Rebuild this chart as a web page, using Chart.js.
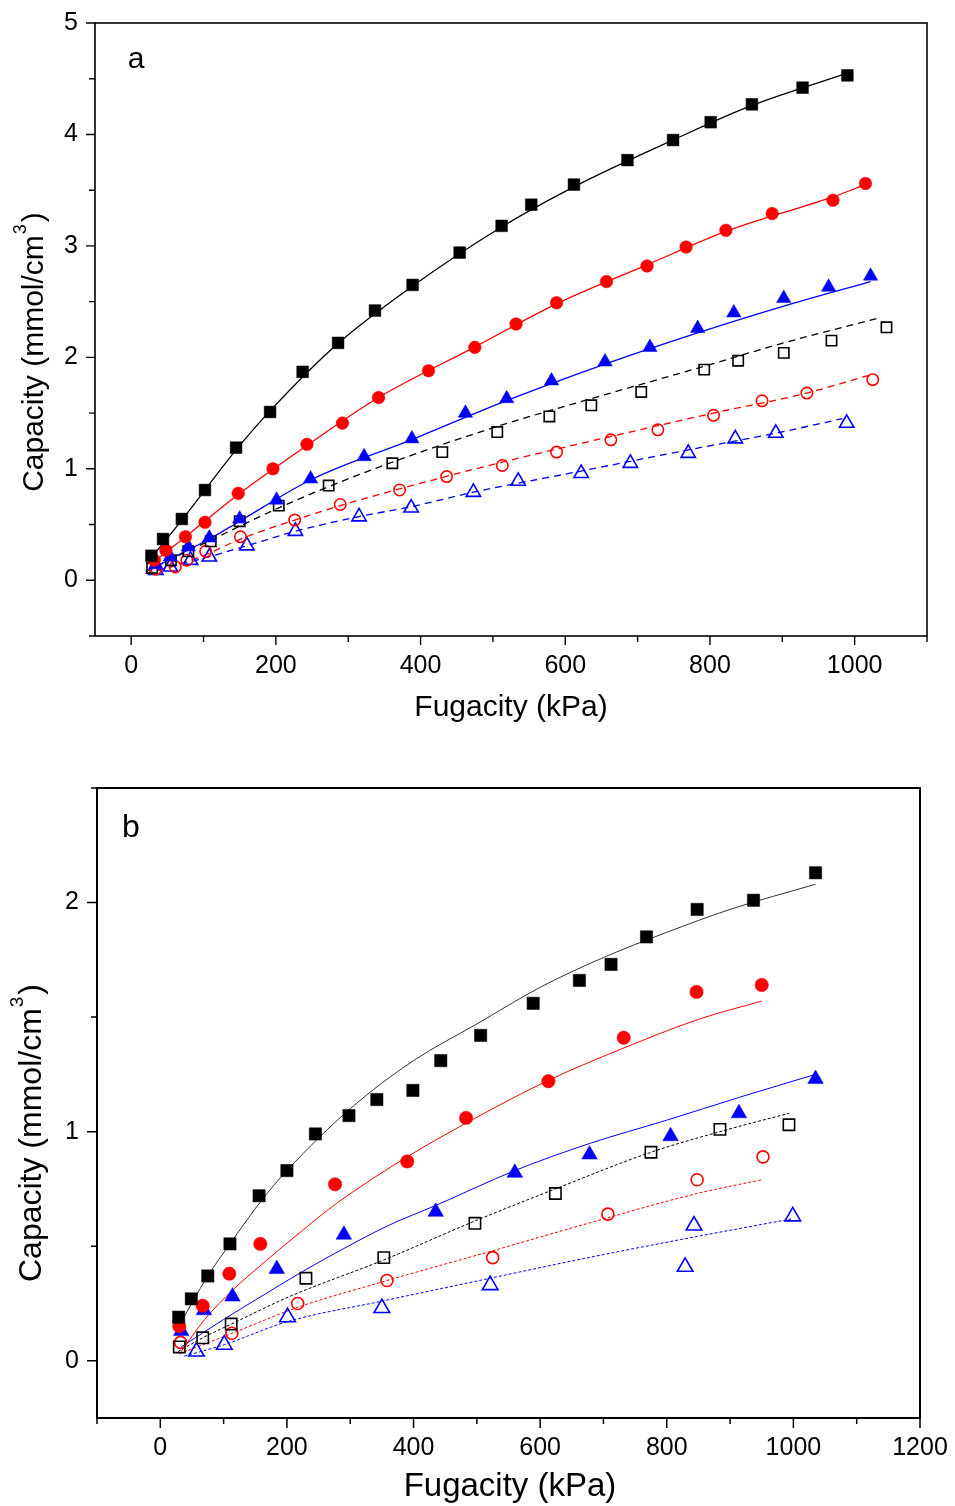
<!DOCTYPE html>
<html>
<head>
<meta charset="utf-8">
<script src="https://cdn.jsdelivr.net/npm/chart.js@4.4.1/dist/chart.umd.min.js"></script>
<style>
  html, body { margin: 0; padding: 0; background: #fff; }
  #wrap { position: relative; width: 955px; height: 1506px; overflow: hidden; }
  canvas { position: absolute; left: 0; }
  #cA { top: 0; }
  #cB { top: 742px; }
</style>
</head>
<body>
<div id="wrap">
  <canvas id="cA" width="955" height="742"></canvas>
  <canvas id="cB" width="955" height="764"></canvas>
</div>
<script>
// ---------- texts ----------
const X_TITLE = 'Fugacity (kPa)';
const Y_TITLE = ['Capacity (mmol/cm', '3', ')'];
const PANEL_A = 'a';
const PANEL_B = 'b';

// ---------- panel a : measured points ----------
const aSqFilledX = [28, 44, 70, 102, 145, 192, 237, 286, 337, 389, 454, 512, 553, 612, 686, 749, 801, 858, 928, 990];
const aSqFilledY = [0.22, 0.37, 0.55, 0.81, 1.19, 1.51, 1.87, 2.13, 2.42, 2.65, 2.94, 3.18, 3.37, 3.55, 3.77, 3.95, 4.11, 4.27, 4.42, 4.53];
const aCiFilledX = [32, 48, 75, 102, 148, 196, 243, 292, 342, 411, 475, 532, 588, 657, 713, 767, 822, 886, 970, 1015];
const aCiFilledY = [0.18, 0.27, 0.39, 0.52, 0.78, 1.00, 1.22, 1.41, 1.64, 1.88, 2.09, 2.30, 2.49, 2.68, 2.82, 2.99, 3.14, 3.29, 3.41, 3.56];
const aTrFilledX = [34, 54, 79, 108, 150, 201, 248, 322, 388, 462, 519, 581, 655, 717, 783, 833, 902, 964, 1022];
const aTrFilledY = [0.14, 0.21, 0.30, 0.38, 0.55, 0.72, 0.91, 1.11, 1.27, 1.50, 1.63, 1.79, 1.96, 2.09, 2.26, 2.40, 2.53, 2.63, 2.73];
const aSqOpenX = [29, 55, 79, 110, 150, 204, 273, 361, 430, 506, 578, 636, 705, 792, 839, 902, 968, 1044];
const aSqOpenY = [0.11, 0.18, 0.26, 0.35, 0.53, 0.67, 0.85, 1.05, 1.15, 1.33, 1.47, 1.57, 1.69, 1.89, 1.97, 2.04, 2.15, 2.27];
const aCiOpenX = [34, 61, 77, 103, 151, 226, 289, 371, 436, 513, 588, 663, 728, 805, 872, 934, 1025];
const aCiOpenY = [0.10, 0.12, 0.18, 0.26, 0.39, 0.54, 0.68, 0.81, 0.93, 1.03, 1.15, 1.26, 1.35, 1.48, 1.61, 1.68, 1.80];
const aTrOpenX = [34, 54, 82, 108, 160, 227, 315, 387, 473, 535, 622, 690, 770, 835, 891, 989];
const aTrOpenY = [0.09, 0.12, 0.18, 0.21, 0.31, 0.44, 0.57, 0.65, 0.79, 0.89, 0.96, 1.05, 1.14, 1.27, 1.32, 1.41];

// ---------- panel a : model curves ----------
const aFitBlackX = [25, 70, 145, 192, 285, 389, 512, 612, 749, 858, 990];
const aFitBlackY = [0.18, 0.54, 1.17, 1.52, 2.12, 2.64, 3.17, 3.53, 3.95, 4.26, 4.55];
const aFitRedX = [30, 75, 148, 243, 342, 474, 588, 713, 822, 970, 1015];
const aFitRedY = [0.16, 0.39, 0.77, 1.21, 1.64, 2.09, 2.48, 2.83, 3.13, 3.44, 3.55];
const aFitBlueX = [25, 54, 108, 150, 248, 387, 518, 655, 783, 902, 1022];
const aFitBlueY = [0.09, 0.19, 0.37, 0.53, 0.90, 1.26, 1.61, 1.94, 2.22, 2.46, 2.68];
const aFitBlackDX = [20, 55, 110, 204, 273, 361, 506, 636, 792, 902, 1032];
const aFitBlackDY = [0.08, 0.19, 0.36, 0.65, 0.84, 1.06, 1.38, 1.63, 1.92, 2.13, 2.35];
const aFitRedDX = [20, 60, 103, 151, 226, 289, 371, 513, 663, 805, 934, 1020];
const aFitRedDY = [0.06, 0.13, 0.23, 0.37, 0.54, 0.67, 0.82, 1.06, 1.29, 1.50, 1.68, 1.84];
const aFitBlueDX = [20, 54, 107, 160, 227, 314, 387, 473, 622, 770, 891, 983];
const aFitBlueDY = [0.06, 0.12, 0.21, 0.31, 0.44, 0.57, 0.66, 0.79, 0.98, 1.17, 1.32, 1.45];

// ---------- panel b : measured points ----------
const bSqFilledX = [29, 49, 75, 110, 156, 200, 245, 298, 342, 399, 443, 506, 589, 662, 712, 768, 848, 937, 1035];
const bSqFilledY = [0.19, 0.27, 0.37, 0.51, 0.72, 0.83, 0.99, 1.07, 1.14, 1.18, 1.31, 1.42, 1.56, 1.66, 1.73, 1.85, 1.97, 2.01, 2.13];
const bCiFilledX = [30, 67, 109, 158, 276, 390, 483, 613, 732, 847, 950];
const bCiFilledY = [0.15, 0.24, 0.38, 0.51, 0.77, 0.87, 1.06, 1.22, 1.41, 1.61, 1.64];
const bTrFilledX = [33, 69, 114, 184, 290, 435, 560, 678, 806, 914, 1035];
const bTrFilledY = [0.13, 0.22, 0.28, 0.40, 0.55, 0.65, 0.82, 0.90, 0.98, 1.08, 1.23];
const bSqOpenX = [30, 67, 112, 230, 353, 497, 624, 775, 884, 993];
const bSqOpenY = [0.06, 0.10, 0.16, 0.36, 0.45, 0.60, 0.73, 0.91, 1.01, 1.03];
const bCiOpenX = [32, 113, 217, 358, 525, 707, 848, 952];
const bCiOpenY = [0.08, 0.12, 0.25, 0.35, 0.45, 0.64, 0.79, 0.89];
const bTrOpenX = [57, 101, 201, 350, 521, 829, 843, 999];
const bTrOpenY = [0.04, 0.07, 0.19, 0.23, 0.33, 0.41, 0.59, 0.63];

// ---------- panel b : model curves ----------
const bFitBlackX = [27, 75, 110, 160, 200, 300, 400, 500, 600, 700, 800, 900, 1035];
const bFitBlackY = [0.14, 0.37, 0.51, 0.70, 0.83, 1.10, 1.31, 1.47, 1.63, 1.76, 1.87, 1.97, 2.08];
const bFitRedX = [33, 70, 115, 160, 225, 280, 390, 485, 610, 710, 850, 950];
const bFitRedY = [0.04, 0.18, 0.31, 0.42, 0.57, 0.69, 0.89, 1.04, 1.22, 1.34, 1.49, 1.57];
const bFitBlueX = [33, 100, 165, 225, 290, 360, 437, 560, 680, 800, 915, 1035];
const bFitBlueY = [0.06, 0.18, 0.29, 0.39, 0.49, 0.59, 0.68, 0.83, 0.95, 1.05, 1.15, 1.25];
const bFitBlackDX = [28, 67, 112, 204, 353, 497, 624, 775, 884, 993];
const bFitBlackDY = [0.04, 0.10, 0.16, 0.28, 0.44, 0.61, 0.75, 0.91, 1.00, 1.08];
const bFitRedDX = [30, 114, 214, 358, 525, 676, 848, 950];
const bFitRedDY = [0.03, 0.12, 0.23, 0.35, 0.48, 0.60, 0.73, 0.79];
const bFitBlueDX = [38, 101, 200, 350, 521, 676, 843, 999];
const bFitBlueDY = [0.02, 0.07, 0.17, 0.26, 0.36, 0.45, 0.54, 0.62];

// ---------- helpers ----------
const FONT = '"Liberation Sans", Arial, Helvetica, sans-serif';
const BLACK = '#000000', RED = '#ff0000', BLUE = '#0000ff';

function pts(xs, ys) { return xs.map((x, i) => ({ x, y: ys[i] })); }

function markers(xs, ys, color, style, radius, filled) {
  return {
    data: pts(xs, ys),
    showLine: false,
    pointStyle: style,
    pointRadius: radius,
    pointHoverRadius: radius,
    pointBackgroundColor: filled ? color : 'rgba(255,255,255,0)',
    pointBorderColor: color,
    pointBorderWidth: filled ? 0.5 : 1.6,
    order: 0
  };
}

function curve(xs, ys, color, dash, width) {
  return {
    data: pts(xs, ys),
    showLine: true,
    borderColor: color,
    borderWidth: width,
    borderDash: dash,
    pointRadius: 0,
    pointHoverRadius: 0,
    cubicInterpolationMode: 'monotone',
    fill: false,
    order: 1
  };
}

const isMultiple = (v, step) => Math.abs(v / step - Math.round(v / step)) < 1e-6;

// frame around the plot area plus outward major/minor ticks on left and bottom
const frameTicks = {
  id: 'frameTicks',
  afterDraw(chart, args, o) {
    const { ctx, chartArea: a, scales: { x, y } } = chart;
    ctx.save();
    ctx.strokeStyle = '#000';
    ctx.lineWidth = o.frameWidth;
    ctx.strokeRect(a.left, a.top, a.right - a.left, a.bottom - a.top);
    ctx.lineWidth = o.tickWidth;
    ctx.beginPath();
    x.ticks.forEach(t => {
      if (!isMultiple(t.value, o.xMinor)) return;
      const len = isMultiple(t.value, o.xMajor) ? o.majorLen : o.minorLen;
      const px = x.getPixelForValue(t.value);
      ctx.moveTo(px, a.bottom);
      ctx.lineTo(px, a.bottom + len);
    });
    y.ticks.forEach(t => {
      if (!isMultiple(t.value, o.yMinor)) return;
      const len = isMultiple(t.value, o.yMajor) ? o.majorLen : o.minorLen;
      const py = y.getPixelForValue(t.value);
      ctx.moveTo(a.left, py);
      ctx.lineTo(a.left - len, py);
    });
    ctx.stroke();
    ctx.restore();
  }
};

// axis titles (with superscript) and panel letter
const annotations = {
  id: 'annotations',
  afterDraw(chart, args, o) {
    const ctx = chart.ctx;
    ctx.save();
    ctx.fillStyle = '#000';
    ctx.textAlign = 'center';
    ctx.textBaseline = 'middle';
    ctx.font = `${o.letterSize}px ${FONT}`;
    ctx.fillText(o.letter, o.letterX, o.letterY);
    ctx.font = `${o.titleSize}px ${FONT}`;
    ctx.fillText(X_TITLE, o.xTitleX, o.xTitleY);

    ctx.translate(o.yTitleX, o.yTitleY);
    ctx.rotate(-Math.PI / 2);
    ctx.textAlign = 'left';
    const main = `${o.yTitleSize}px ${FONT}`;
    const sup = `${Math.round(o.yTitleSize * 0.6)}px ${FONT}`;
    ctx.font = main;
    const w1 = ctx.measureText(Y_TITLE[0]).width;
    const w3 = ctx.measureText(Y_TITLE[2]).width;
    ctx.font = sup;
    const w2 = ctx.measureText(Y_TITLE[1]).width;
    let cx = -(w1 + w2 + w3 + 3) / 2;
    ctx.font = main; ctx.fillText(Y_TITLE[0], cx, 0); cx += w1;
    ctx.font = sup; ctx.fillText(Y_TITLE[1], cx + 1, -o.yTitleSize * 0.45); cx += w2 + 3;
    ctx.font = main; ctx.fillText(Y_TITLE[2], cx, 0);
    ctx.restore();
  }
};

function makeChart(canvasId, cfg) {
  return new Chart(document.getElementById(canvasId), {
    type: 'scatter',
    data: { datasets: cfg.datasets },
    plugins: [frameTicks, annotations],
    options: {
      responsive: false,
      animation: false,
      devicePixelRatio: 1,
      events: [],
      layout: { padding: cfg.padding },
      plugins: {
        legend: { display: false },
        tooltip: { enabled: false },
        frameTicks: cfg.ticks,
        annotations: cfg.text
      },
      scales: {
        x: {
          type: 'linear',
          min: cfg.xMin, max: cfg.xMax,
          afterFit: s => { s.height = cfg.xAxisHeight; s.paddingLeft = 0; s.paddingRight = 0; },
          grid: { display: false, drawTicks: false },
          border: { display: false },
          ticks: {
            stepSize: cfg.ticks.xMinor,
            includeBounds: false,
            autoSkip: false, maxRotation: 0, minRotation: 0,
            padding: cfg.xLabelPad,
            color: '#000',
            font: { family: FONT, size: cfg.tickSize },
            callback: v => isMultiple(v, cfg.ticks.xMajor) ? String(Math.round(v)) : ''
          }
        },
        y: {
          type: 'linear',
          min: cfg.yMin, max: cfg.yMax,
          afterFit: s => { s.width = cfg.yAxisWidth; s.paddingTop = 0; s.paddingBottom = 0; },
          grid: { display: false, drawTicks: false },
          border: { display: false },
          ticks: {
            stepSize: cfg.ticks.yMinor,
            includeBounds: false,
            autoSkip: false,
            padding: cfg.yLabelPad,
            color: '#000',
            font: { family: FONT, size: cfg.tickSize },
            callback: v => isMultiple(v, cfg.ticks.yMajor) ? String(Math.round(v)) : ''
          }
        }
      }
    }
  });
}

// ---------- panel a ----------
makeChart('cA', {
  datasets: [
    curve(aFitBlackX, aFitBlackY, BLACK, [], 1.3),
    curve(aFitRedX, aFitRedY, RED, [], 1.3),
    curve(aFitBlueX, aFitBlueY, BLUE, [], 1.3),
    curve(aFitBlackDX, aFitBlackDY, BLACK, [7, 5], 1.3),
    curve(aFitRedDX, aFitRedDY, RED, [7, 5], 1.3),
    curve(aFitBlueDX, aFitBlueDY, BLUE, [7, 5], 1.3),
    markers(aSqFilledX, aSqFilledY, BLACK, 'rect', 8.3, true),
    markers(aCiFilledX, aCiFilledY, RED, 'circle', 6.3, true),
    markers(aTrFilledX, aTrFilledY, BLUE, 'triangle', 8.3, true),
    markers(aSqOpenX, aSqOpenY, BLACK, 'rect', 7.3, false),
    markers(aCiOpenX, aCiOpenY, RED, 'circle', 5.7, false),
    markers(aTrOpenX, aTrOpenY, BLUE, 'triangle', 8.3, false)
  ],
  padding: { top: 23, right: 28, bottom: 0, left: 0 },
  xMin: -50, xMax: 1100, yMin: -0.5, yMax: 5,
  xAxisHeight: 106, yAxisWidth: 95,
  xLabelPad: 15, yLabelPad: 17, tickSize: 25,
  ticks: { xMinor: 100, xMajor: 200, yMinor: 0.5, yMajor: 1, majorLen: 9, minorLen: 6, frameWidth: 1.6, tickWidth: 1.4 },
  text: { letter: PANEL_A, letterSize: 30, letterX: 136, letterY: 60,
          titleSize: 30, yTitleSize: 30, xTitleX: 511, xTitleY: 708, yTitleX: 35, yTitleY: 352 }
});

// ---------- panel b ----------
makeChart('cB', {
  datasets: [
    curve(bFitBlackX, bFitBlackY, '#333333', [], 1),
    curve(bFitRedX, bFitRedY, RED, [], 1),
    curve(bFitBlueX, bFitBlueY, BLUE, [], 1),
    curve(bFitBlackDX, bFitBlackDY, BLACK, [3, 2], 1),
    curve(bFitRedDX, bFitRedDY, RED, [3, 2], 1),
    curve(bFitBlueDX, bFitBlueDY, BLUE, [3, 2], 1),
    markers(bSqFilledX, bSqFilledY, BLACK, 'rect', 8.7, true),
    markers(bCiFilledX, bCiFilledY, RED, 'circle', 6.7, true),
    markers(bTrFilledX, bTrFilledY, BLUE, 'triangle', 9, true),
    markers(bSqOpenX, bSqOpenY, BLACK, 'rect', 8, false),
    markers(bCiOpenX, bCiOpenY, RED, 'circle', 6, false),
    markers(bTrOpenX, bTrOpenY, BLUE, 'triangle', 9, false)
  ],
  padding: { top: 46, right: 35, bottom: 0, left: 0 },
  xMin: -100, xMax: 1200, yMin: -0.25, yMax: 2.5,
  xAxisHeight: 88, yAxisWidth: 97,
  xLabelPad: 15, yLabelPad: 18, tickSize: 25,
  ticks: { xMinor: 100, xMajor: 200, yMinor: 0.5, yMajor: 1, majorLen: 10, minorLen: 6, frameWidth: 2, tickWidth: 1.5 },
  text: { letter: PANEL_B, letterSize: 32, letterX: 131, letterY: 86,
          titleSize: 33, yTitleSize: 32, xTitleX: 510, xTitleY: 745, yTitleX: 32, yTitleY: 391 }
});
</script>
</body>
</html>
